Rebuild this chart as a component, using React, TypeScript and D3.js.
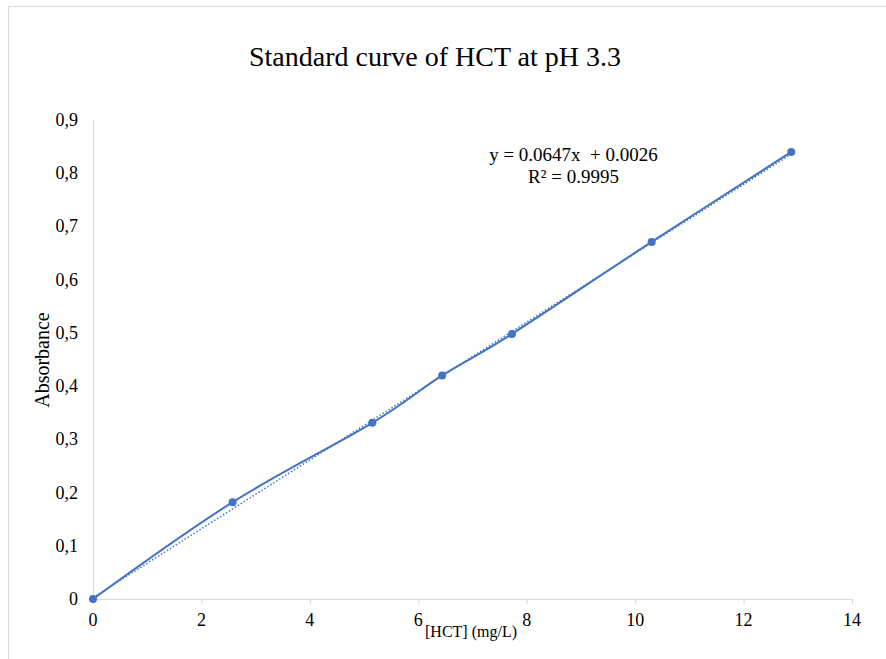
import React from "react";
import * as d3 from "d3";

const concentrations = [0, 2.576, 5.152, 6.44, 7.728, 10.304, 12.88];
const absorbances = [0, 0.182, 0.331, 0.42, 0.498, 0.671, 0.84];
const xTicks = [0, 2, 4, 6, 8, 10, 12, 14];
const yTicks = [0, 0.1, 0.2, 0.3, 0.4, 0.5, 0.6, 0.7, 0.8, 0.9];
const slope = 0.0647;
const intercept = 0.0026;
const titleText = "Standard curve of HCT at pH 3.3";
const eqText = "y = 0.0647x  + 0.0026";
const r2Text = "R² = 0.9995";

const W = 886;
const H = 659;
const left = 93;
const right = 852;
const top = 120;
const bottom = 599;
const blue = "#4472C4";
const font = "Liberation Serif, Times New Roman, serif";

export default function App() {
  const x = d3.scaleLinear().domain([0, 14]).range([left, right]);
  const y = d3.scaleLinear().domain([0, 0.9]).range([bottom, top]);
  const pts: [number, number][] = concentrations.map((c, i) => [c, absorbances[i]]);
  const line = d3
    .line<[number, number]>()
    .x((d) => x(d[0]))
    .y((d) => y(d[1]))
    .curve(d3.curveCatmullRom.alpha(0));
  const xMin = d3.min(concentrations) as number;
  const xMax = d3.max(concentrations) as number;
  const trend = d3
    .line<number>()
    .x((d) => x(d))
    .y((d) => y(slope * d + intercept));
  const fmt = (v: number) => (v === 0 ? "0" : d3.format(".1f")(v).replace(".", ","));
  const ts = { fontFamily: font, whiteSpace: "pre" as const };

  return (
    <svg
      width={W}
      height={H}
      style={{ position: "absolute", left: 0, top: 0, background: "#fff" }}
    >
      <rect x={8.5} y={6.5} width={W} height={H} fill="#fff" stroke="#d9d9d9" strokeWidth={1} />
      <text x={435} y={66} textAnchor="middle" style={ts} fontSize={28} fill="#000">
        {titleText}
      </text>
      <line x1={left + 0.5} x2={left + 0.5} y1={top} y2={bottom} stroke="#d9d9d9" strokeWidth={1} />
      <line x1={left} x2={right} y1={bottom + 0.5} y2={bottom + 0.5} stroke="#d9d9d9" strokeWidth={1} />
      {xTicks.map((t) => (
        <g key={"xt" + t}>
          <line x1={x(t) + 0.5} x2={x(t) + 0.5} y1={bottom} y2={bottom + 5} stroke="#d9d9d9" />
          <text x={x(t)} y={626} textAnchor="middle" style={ts} fontSize={18} fill="#000">
            {t}
          </text>
        </g>
      ))}
      {yTicks.map((t) => (
        <text
          key={"yt" + t}
          x={78}
          y={y(t) + 6}
          textAnchor="end"
          style={ts}
          fontSize={18}
          fill="#000"
        >
          {fmt(t)}
        </text>
      ))}
      <text
        transform={`translate(49,360) rotate(-90)`}
        textAnchor="middle"
        style={ts}
        fontSize={20}
        fill="#000"
      >
        Absorbance
      </text>
      <text x={471} y={637} textAnchor="middle" style={ts} fontSize={16} fill="#000">
        [HCT] (mg/L)
      </text>
      <path
        d={trend([xMin, xMax]) || ""}
        fill="none"
        stroke={blue}
        strokeWidth={1.5}
        strokeDasharray="1.5 2"
      />
      <path d={line(pts) || ""} fill="none" stroke={blue} strokeWidth={2} />
      {pts.map((p, i) => (
        <circle key={"p" + i} cx={x(p[0])} cy={y(p[1])} r={4} fill={blue} />
      ))}
      <text x={573.5} y={161} textAnchor="middle" style={ts} fontSize={19} fill="#000">
        {eqText}
      </text>
      <text x={573.5} y={183} textAnchor="middle" style={ts} fontSize={19} fill="#000">
        {r2Text}
      </text>
    </svg>
  );
}
